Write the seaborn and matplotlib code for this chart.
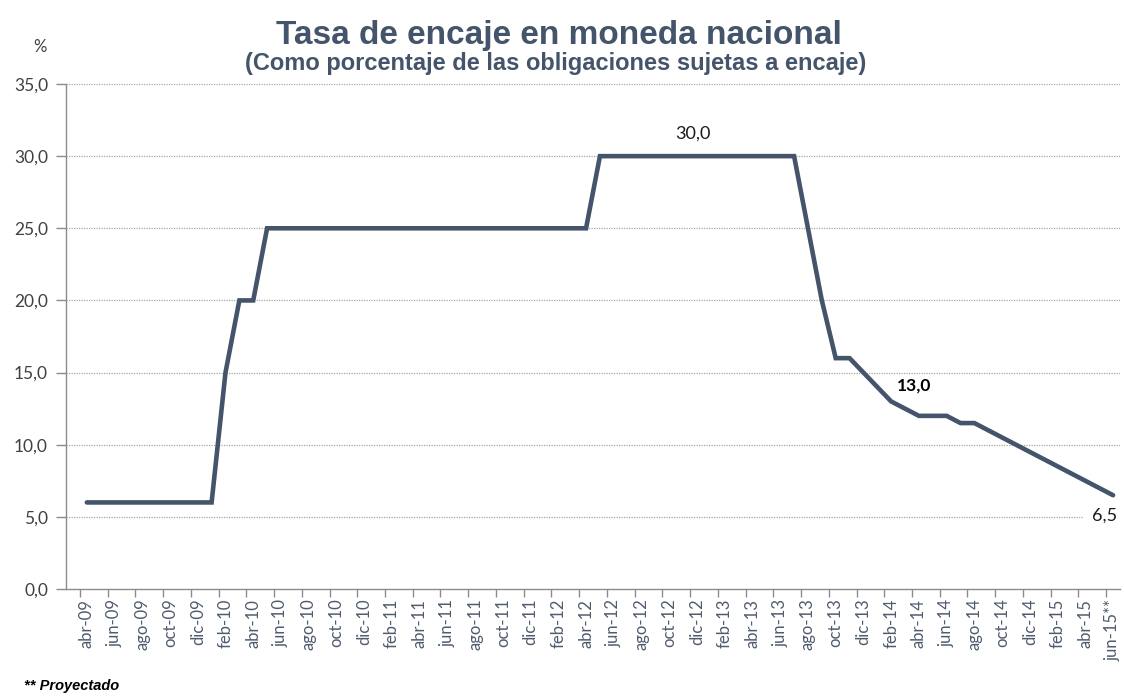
import numpy as np
import pandas as pd
import seaborn as sns
import matplotlib.pyplot as plt
from matplotlib.ticker import FixedLocator, FuncFormatter

# Monthly series, abr-09 .. jun-15 (jun-15 projected)
meses = ['ene', 'feb', 'mar', 'abr', 'may', 'jun', 'jul', 'ago', 'sep', 'oct', 'nov', 'dic']
periodos = [f"{meses[(3 + i) % 12]}-{(9 + (3 + i) // 12):02d}" for i in range(75)]

tasa = ([6.0] * 10                       # abr-09 .. ene-10
        + [15.0, 20.0, 20.0]             # feb-10 .. abr-10
        + [25.0] * 24                    # may-10 .. abr-12
        + [30.0] * 15                    # may-12 .. jul-13
        + [25.0, 20.0, 16.0, 16.0,       # ago-13 .. nov-13
           15.0, 14.0, 13.0, 12.5,       # dic-13 .. mar-14
           12.0, 12.0, 12.0, 11.5, 11.5, # abr-14 .. ago-14
           11.0, 10.5, 10.0, 9.5, 9.0,   # sep-14 .. ene-15
           8.5, 8.0, 7.5, 7.0, 6.5])     # feb-15 .. jun-15

etiquetas = [p if i < 74 else p + "**" for i, p in enumerate(periodos)]

df = pd.DataFrame({'idx': np.arange(len(tasa)), 'tasa': tasa})

sns.set_theme(style="white")
plt.rcParams['font.family'] = ['Lato', 'DejaVu Sans']

color_linea = '#44546A'
color_texto = '#44546A'

fig = plt.figure(figsize=(11.24, 6.96), dpi=100)
ax = fig.add_axes([66 / 1124, 1 - 589 / 696, (1120 - 66) / 1124, (589 - 84) / 696])

sns.lineplot(data=df, x='idx', y='tasa', ax=ax, color=color_linea,
             linewidth=3.3, solid_capstyle='round', solid_joinstyle='miter')

ax.set_xlim(-1.5, 74.5)
ax.set_ylim(0, 35)
ax.set_xlabel('')
ax.set_ylabel('')

# y axis
ax.set_yticks(np.arange(0, 36, 5))
ax.yaxis.set_major_formatter(FuncFormatter(lambda v, p: f"{v:.1f}".replace('.', ',')))
ax.tick_params(axis='y', which='major', length=7, width=1, color='#8c8c8c',
               pad=6, labelsize=12.5, labelcolor='#404040', left=True)
for v in np.arange(5, 36, 5):
    ax.axhline(v, color='#a8a8a8', linestyle=(0, (1, 1)), linewidth=0.9, zorder=0)

# x axis: labels on every 2nd month, ticks between
ax.xaxis.set_major_locator(FixedLocator(df['idx'][::2].values))
ax.set_xticklabels(etiquetas[::2], rotation=90, ha='center', va='top')
ax.xaxis.set_minor_locator(FixedLocator(df['idx'][::2].values - 0.5))
ax.tick_params(axis='x', which='major', length=0, pad=7, labelsize=12,
               labelcolor='#4f5b6e', bottom=True)
ax.tick_params(axis='x', which='minor', length=6, width=1, color='#8c8c8c', bottom=True)

for s in ['top', 'right']:
    ax.spines[s].set_visible(False)
for s in ['left', 'bottom']:
    ax.spines[s].set_color('#8c8c8c')
    ax.spines[s].set_linewidth(1)

# data labels
def fmt(v):
    return f"{v:.1f}".replace('.', ',')

ax.annotate(fmt(tasa[44]), xy=(44, tasa[44]), xytext=(-3, 16), textcoords='offset points',
            ha='center', va='center', fontsize=13, color='#1a1a1a')
ax.annotate(fmt(tasa[58]), xy=(58, tasa[58]), xytext=(16.5, 11.5), textcoords='offset points',
            ha='center', va='center', fontsize=12.5, fontweight='bold', color='black')
ax.annotate(fmt(tasa[74]), xy=(74, tasa[74]), xytext=(-6, -15), textcoords='offset points',
            ha='center', va='center', fontsize=13, color='#1a1a1a',
            bbox=dict(boxstyle='square,pad=0.5', fc='white', ec='none'))

# titles and notes
fig.text(559 / 1124, 1 - 44 / 696, 'Tasa de encaje en moneda nacional', ha='center',
         va='baseline', fontsize=24, fontweight='bold', color=color_texto,
         family=['Liberation Sans', 'DejaVu Sans'])
fig.text(556 / 1124, 1 - 70 / 696, '(Como porcentaje de las obligaciones sujetas a encaje)',
         ha='center', va='baseline', fontsize=17, fontweight='bold', color=color_texto,
         family=['Liberation Sans', 'DejaVu Sans'])
fig.text(40 / 1124, 1 - 47 / 696, '%', ha='center', va='center', fontsize=12, color='#404040')
fig.text(24 / 1124, 1 - 690 / 696, '** Proyectado', ha='left', va='baseline', fontsize=10.5,
         fontweight='bold', fontstyle='italic', color='black',
         family=['Liberation Sans', 'DejaVu Sans'])

fig.savefig('out.png', dpi=100)
